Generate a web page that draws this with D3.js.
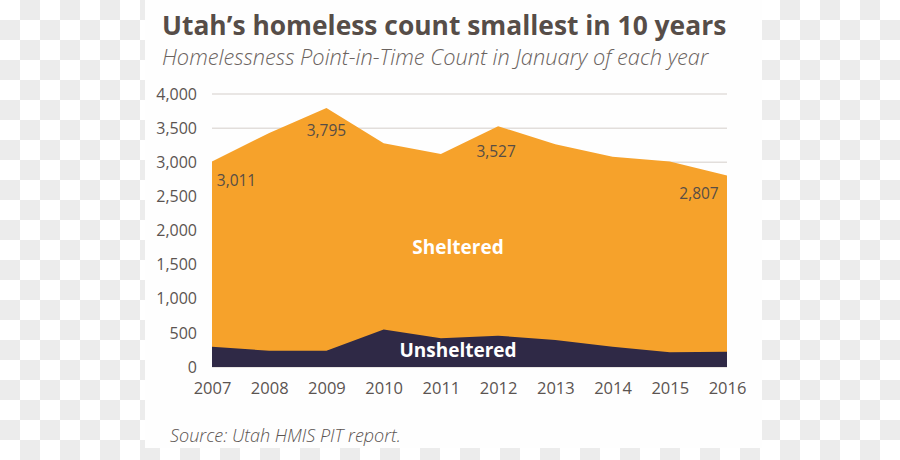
<!DOCTYPE html>
<html><head><meta charset="utf-8">
<script src="https://cdn.jsdelivr.net/npm/d3@7"></script>
<style>body{margin:0;padding:0;overflow:hidden;} svg{display:block;}</style>
</head><body>
<svg id="chart" width="900" height="460"></svg>
<script>
const years = [2007,2008,2009,2010,2011,2012,2013,2014,2015,2016];
const totalCount = [3011,3430,3795,3277,3121,3527,3265,3080,3010,2807];
const unsheltered = [297,239,239,548,420,459,396,298,215,225];
const yTicks = [0,500,1000,1500,2000,2500,3000,3500,4000];
const valueLabels = [
  {year:2007, text:"3,011"},
  {year:2009, text:"3,795"},
  {year:2012, text:"3,527"},
  {year:2016, text:"2,807"}
];

const svg = d3.select("#chart");
const W = 900, H = 460;

// checkerboard background
const cell = 20;
const bg = svg.append("g");
for (let r = 0; r < H / cell; r++) {
  for (let c = 0; c < W / cell; c++) {
    bg.append("rect").attr("x", c*cell).attr("y", r*cell).attr("width", cell).attr("height", cell)
      .attr("fill", (r + c) % 2 === 1 ? "#ececec" : "#ffffff");
  }
}
// white panel
svg.append("rect").attr("x",145).attr("y",0).attr("width",617).attr("height",448).attr("fill","#fefefe");

const x = d3.scaleLinear().domain([2007,2016]).range([212,727]);
const y = d3.scaleLinear().domain([0,4000]).range([367,94]);

const font = "'Open Sans', sans-serif";

// gridlines
svg.append("g").selectAll("line").data(yTicks).join("line")
  .attr("x1",212).attr("x2",727)
  .attr("y1",d=>y(d)).attr("y2",d=>y(d))
  .attr("stroke","#e2dedb").attr("stroke-width",1.5);

const data = years.map((yr,i)=>({year:yr,total:totalCount[i],uns:unsheltered[i]}));

svg.append("path").datum(data)
  .attr("d", d3.area().x(d=>x(d.year)).y0(y(0)).y1(d=>y(d.total)))
  .attr("fill","#f6a22b");
svg.append("path").datum(data)
  .attr("d", d3.area().x(d=>x(d.year)).y0(y(0)).y1(d=>y(d.uns)))
  .attr("fill","#2f2946");

// y axis labels
const yAxis = d3.axisLeft(y).tickValues(yTicks).tickSize(0).tickPadding(0)
  .tickFormat(d3.format(","));
const gy = svg.append("g").attr("transform","translate(197,0)").call(yAxis);
gy.select(".domain").remove();
gy.selectAll("text").attr("font-family",font).attr("font-size",16).attr("fill","#5b5451");

// x axis labels
const xAxis = d3.axisBottom(x).tickValues(years).tickSize(0).tickPadding(0).tickFormat(d3.format("d"));
const gx = svg.append("g").attr("transform","translate(0,382)").call(xAxis);
gx.select(".domain").remove();
gx.selectAll("text").attr("font-family",font).attr("font-size",16.5).attr("fill","#5b5451");

// value labels (offsets relative to the data point)
const labelOffsets = {2007:[24.5,25], 2009:[0,28], 2012:[-2,31], 2016:[-28,24]};
svg.append("g").selectAll("text").data(valueLabels).join("text")
  .attr("x", d=>x(d.year)+labelOffsets[d.year][0])
  .attr("y", d=>y(totalCount[years.indexOf(d.year)])+labelOffsets[d.year][1])
  .attr("text-anchor","middle")
  .attr("font-family",font).attr("font-size",15.5).attr("fill","#574d45")
  .text(d=>d.text);

// series labels
svg.append("text").attr("x",458).attr("y",253.5).attr("text-anchor","middle")
  .attr("font-family",font).attr("font-weight",700).attr("font-size",19).attr("fill","#ffffff")
  .text("Sheltered");
svg.append("text").attr("x",458).attr("y",357).attr("text-anchor","middle")
  .attr("font-family",font).attr("font-weight",700).attr("font-size",19).attr("fill","#ffffff")
  .text("Unsheltered");

// title
svg.append("text").attr("x",162).attr("y",35)
  .attr("font-family",font).attr("font-weight",700).attr("font-size",26.4).attr("fill","#564d48")
  .text("Utah\u2019s homeless count smallest in 10 years");
svg.append("text").attr("x",162).attr("y",64.5)
  .attr("font-family",font).attr("font-weight",300).attr("font-style","italic").attr("font-size",21.8).attr("fill","#6b6360")
  .text("Homelessness Point-in-Time Count in January of each year");

// source
svg.append("text").attr("x",170).attr("y",442)
  .attr("font-family",font).attr("font-weight",300).attr("font-style","italic").attr("font-size",18).attr("fill","#5b5451")
  .text("Source: Utah HMIS PIT report.");
</script>
</body></html>
